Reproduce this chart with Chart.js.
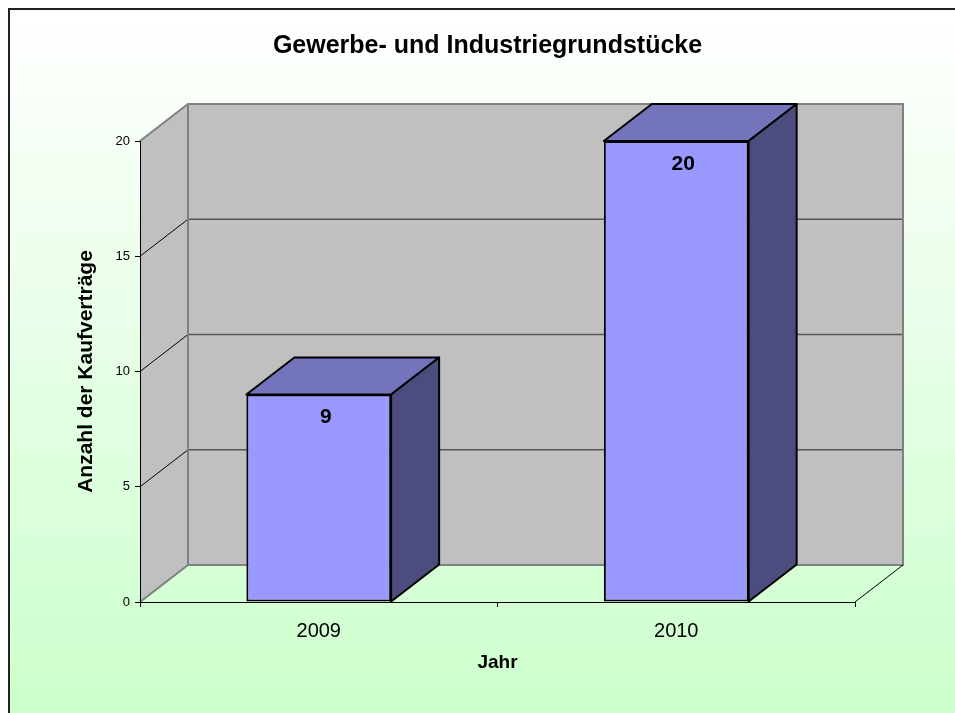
<!DOCTYPE html>
<html>
<head>
<meta charset="utf-8">
<script src="https://cdn.jsdelivr.net/npm/chart.js@4.4.1/dist/chart.umd.min.js"></script>
<style>
  html, body { margin: 0; padding: 0; background: #fff; }
  #wrap { width: 955px; height: 713px; }
</style>
</head>
<body>
<div id="wrap"><canvas id="kaufChart" width="955" height="713"></canvas></div>
<script>
const jahre = ["2009", "2010"];
const anzahl = [9, 20];
const yTicks = [0, 5, 10, 15, 20];

// 3D-Tiefe (Versatz nach hinten)
const DX = 48, DY = -37;

const depthPlugin = {
  id: 'depth3d',
  beforeDraw(chart) {
    const { ctx, chartArea: a, scales: { x, y } } = chart;
    const W = chart.width, H = chart.height;
    ctx.save();
    // Hintergrund
    ctx.fillStyle = '#fff';
    ctx.fillRect(0, 0, W, H);
    const g = ctx.createLinearGradient(0, 9, 0, H);
    g.addColorStop(0, '#ffffff');
    g.addColorStop(1, '#ccffcc');
    ctx.fillStyle = g;
    ctx.fillRect(9, 9, W - 9, H - 9);
    ctx.strokeStyle = '#222';
    ctx.lineWidth = 2;
    ctx.beginPath();
    ctx.moveTo(9, H); ctx.lineTo(9, 9); ctx.lineTo(W, 9);
    ctx.stroke();

    const y0 = y.getPixelForValue(yTicks[0]);
    const yTop = y.getPixelForValue(yTicks[yTicks.length - 1]);
    const L = a.left, R = a.right;

    // Rückwand
    ctx.fillStyle = '#c0c0c0';
    ctx.fillRect(L + DX, yTop + DY, R - L, y0 - yTop);
    // Seitenwand
    ctx.beginPath();
    ctx.moveTo(L, yTop); ctx.lineTo(L + DX, yTop + DY);
    ctx.lineTo(L + DX, y0 + DY); ctx.lineTo(L, y0);
    ctx.closePath();
    ctx.fill();

    // Gitterlinien
    yTicks.slice(1, -1).forEach(v => {
      const py = y.getPixelForValue(v);
      ctx.strokeStyle = '#555';
      ctx.lineWidth = 1.5;
      ctx.beginPath();
      ctx.moveTo(L + DX, py + DY); ctx.lineTo(R + DX, py + DY);
      ctx.stroke();
      ctx.strokeStyle = '#000';
      ctx.lineWidth = 1;
      ctx.beginPath();
      ctx.moveTo(L, py); ctx.lineTo(L + DX, py + DY);
      ctx.stroke();
    });

    // Wandränder
    ctx.strokeStyle = '#808080';
    ctx.lineWidth = 2;
    ctx.beginPath();
    ctx.moveTo(L, yTop); ctx.lineTo(L + DX, yTop + DY);
    ctx.lineTo(R + DX, yTop + DY); ctx.lineTo(R + DX, y0 + DY);
    ctx.lineTo(L + DX, y0 + DY); ctx.lineTo(L, y0);
    ctx.moveTo(L + DX, yTop + DY); ctx.lineTo(L + DX, y0 + DY);
    ctx.stroke();
    // Boden rechts
    ctx.strokeStyle = '#000';
    ctx.lineWidth = 1;
    ctx.beginPath();
    ctx.moveTo(R, y0); ctx.lineTo(R + DX, y0 + DY);
    ctx.stroke();
    ctx.restore();
  },
  afterDatasetsDraw(chart) {
    const { ctx } = chart;
    const meta = chart.getDatasetMeta(0);
    ctx.save();
    ctx.lineWidth = 2;
    ctx.strokeStyle = '#000';
    ctx.lineJoin = 'round';
    meta.data.forEach((bar, i) => {
      const { x, y, width, base } = bar.getProps(['x', 'y', 'width', 'base'], true);
      const l = x - width / 2, r = x + width / 2;
      // Oberseite
      ctx.fillStyle = '#7474bd';
      ctx.beginPath();
      ctx.moveTo(l, y); ctx.lineTo(l + DX, y + DY);
      ctx.lineTo(r + DX, y + DY); ctx.lineTo(r, y);
      ctx.closePath();
      ctx.fill(); ctx.stroke();
      // Seite
      ctx.fillStyle = '#4c4c7e';
      ctx.beginPath();
      ctx.moveTo(r, y); ctx.lineTo(r + DX, y + DY);
      ctx.lineTo(r + DX, base + DY); ctx.lineTo(r, base);
      ctx.closePath();
      ctx.fill(); ctx.stroke();
      // Wert
      ctx.fillStyle = '#000';
      ctx.font = 'bold 21px "Liberation Sans", Arial, sans-serif';
      ctx.textAlign = 'center';
      ctx.textBaseline = 'middle';
      ctx.fillText(String(anzahl[i]), x + 7, y + 23);
    });
    ctx.restore();
  }
};

new Chart(document.getElementById('kaufChart'), {
  type: 'bar',
  data: {
    labels: jahre,
    datasets: [{
      label: 'Anzahl der Kaufverträge',
      data: anzahl,
      backgroundColor: '#9999ff',
      borderColor: '#000',
      borderWidth: 2,
      borderSkipped: false,
      barPercentage: 0.405,
      categoryPercentage: 1
    }]
  },
  options: {
    responsive: false,
    animation: false,
    layout: { padding: { left: 20, right: 0, top: 0, bottom: 0 } },
    plugins: {
      legend: { display: false },
      tooltip: { enabled: false },
      title: {
        display: true,
        text: 'Gewerbe- und Industriegrundstücke',
        color: '#000',
        font: { family: '"Liberation Sans", Arial, sans-serif', size: 25, weight: 'bold' },
        padding: { top: 31, bottom: 80 }
      }
    },
    scales: {
      x: {
        afterFit: s => { s.height = 111; },
        grid: { drawOnChartArea: false, drawTicks: true, tickLength: 5, color: '#000', offset: true },
        border: { display: true, color: '#000', width: 1 },
        ticks: {
          color: '#000',
          padding: 12,
          font: { family: '"Liberation Sans", Arial, sans-serif', size: 20 }
        },
        title: {
          display: true,
          text: 'Jahr',
          color: '#000',
          font: { family: '"Liberation Sans", Arial, sans-serif', size: 19, weight: 'bold' },
          padding: { top: 0, bottom: 39 }
        }
      },
      y: {
        min: 0,
        max: 20,
        afterFit: s => { s.width = 120; },
        afterBuildTicks: s => { s.ticks = yTicks.map(v => ({ value: v })); },
        grid: { drawOnChartArea: false, drawTicks: true, tickLength: 5, color: '#000' },
        border: { display: true, color: '#000', width: 1 },
        ticks: {
          color: '#000',
          padding: 5,
          font: { family: '"Liberation Sans", Arial, sans-serif', size: 13 }
        },
        title: {
          display: true,
          text: 'Anzahl der Kaufverträge',
          color: '#000',
          font: { family: '"Liberation Sans", Arial, sans-serif', size: 21, weight: 'bold' },
          padding: { top: 54, bottom: 0 }
        }
      },
      // Platzhalter rechts für die 3D-Tiefe
      yRaum: {
        position: 'right',
        display: true,
        afterFit: s => { s.width = 100; },
        grid: { display: false },
        border: { display: false },
        ticks: { display: false }
      }
    }
  },
  plugins: [depthPlugin]
});
</script>
</body>
</html>
